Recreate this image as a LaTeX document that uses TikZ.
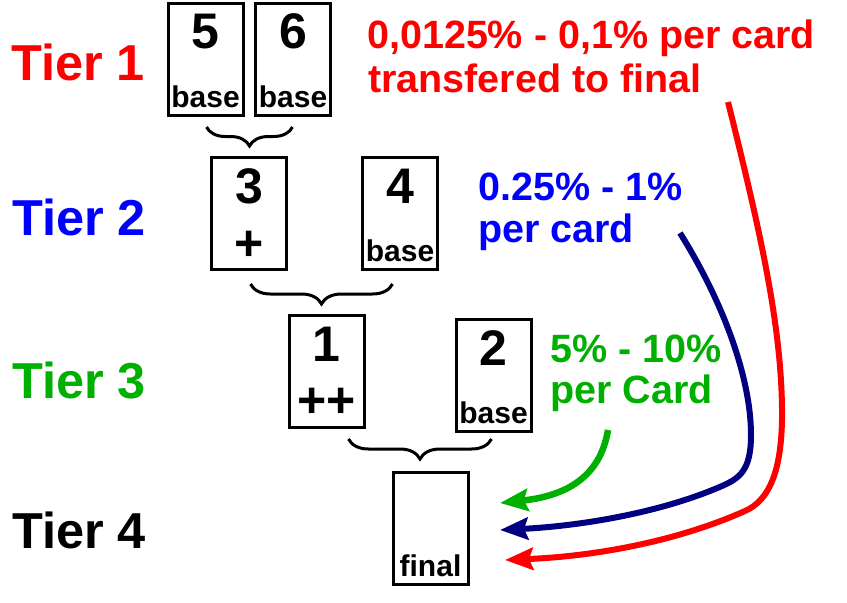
\documentclass[tikz,border=0pt]{standalone}
\usepackage{fontspec}
\setmainfont{Liberation Sans}
\usetikzlibrary{arrows.meta,decorations.pathreplacing,calc}
\definecolor{tred}{HTML}{FF0000}
\definecolor{tblue}{HTML}{0000FF}
\definecolor{tgreen}{HTML}{00B000}
\definecolor{tnavy}{HTML}{000080}
\tikzset{
  card/.style={draw, line width=3pt, minimum width=75pt, minimum height=112pt, inner sep=0pt, fill=white},
  num/.style={font=\fontsize{50}{50}\selectfont\bfseries, anchor=base, inner sep=0pt},
  lab/.style={font=\fontsize{30}{30}\selectfont\bfseries, anchor=base, inner sep=0pt},
  tier/.style={font=\fontsize{50.5}{50.5}\selectfont\bfseries, anchor=base west, inner sep=0pt},
  note/.style={font=\fontsize{39.5}{39.5}\selectfont\bfseries, anchor=base west, inner sep=0pt},
  cbrace/.style={decorate, decoration={brace, mirror, amplitude=19pt}, line width=3pt},
  flow/.style={line width=6pt, -{Stealth[length=28pt, width=22pt, inset=4pt]}},
}
\begin{document}
\begin{tikzpicture}[x=1pt, y=-1pt]
\useasboundingbox (0,0) rectangle (847,603);
% tier labels
\node[tier, text=tred]   (t1) at (11,80)  {Tier 1};
\node[tier, text=tblue]  (t2) at (12,235) {Tier 2};
\node[tier, text=tgreen] (t3) at (12,398) {Tier 3};
\node[tier, text=black]  (t4) at (12,548) {Tier 4};
% cards
\node[card] (c5) at (205.5,59.5) {};
\node[card] (c6) at (293,59.5) {};
\node[card] (c3) at (249,213.5) {};
\node[card] (c4) at (400,213.5) {};
\node[card] (c1) at (326.5,371) {};
\node[card] (c2) at (493.5,375) {};
\node[card] (cf) at (430.5,528) {};
% card numbers
\node[num] (n5) at ($(c5.center)+(0,-11)$) {5};
\node[num] (n6) at ($(c6.center)+(0,-11)$) {6};
\node[num] (n3) at ($(c3.center)+(0,-10)$) {3};
\node[num] (n4) at ($(c4.center)+(0,-10)$) {4};
\node[num] (n1) at ($(c1.center)+(0,-10)$) {1};
\node[num] (n2) at ($(c2.center)+(0,-10)$) {2};
% card bottom labels
\node[lab] (l5) at ($(c5.center)+(0,48)$) {base};
\node[lab] (l6) at ($(c6.center)+(0,48)$) {base};
\node[num] (l3) at ($(c3.center)+(0,47)$) {+};
\node[lab] (l4) at ($(c4.center)+(0,48)$) {base};
\node[num] (l1) at ($(c1.center)+(0,46)$) {++};
\node[lab] (l2) at ($(c2.center)+(0,48)$) {base};
\node[lab] (lf) at ($(cf.center)+(0,48)$) {final};
% braces
\coordinate (b1l) at (206.5,127);
\coordinate (b1r) at (292.5,127);
\coordinate (b2l) at (250.5,284);
\coordinate (b2r) at (392.5,284);
\coordinate (b3l) at (348.5,439);
\coordinate (b3r) at (491.5,439);
\draw[cbrace] (b1l) -- (b1r);
\draw[cbrace, decoration={amplitude=20pt}] (b2l) -- (b2r);
\draw[cbrace, decoration={amplitude=20pt}] (b3l) -- (b3r);
% notes
\node[note, text=tred] (r1) at (367,48) {0,0125\% - 0,1\% per card};
\node[note, text=tred] (r2) at (368,92) {transfered to final};
\node[note, text=tblue] (u1) at (478,200) {0.25\% - 1\%};
\node[note, text=tblue] (u2) at (478,242) {per card};
\node[note, text=tgreen] (g1) at (550,362) {5\% - 10\%};
\node[note, text=tgreen] (g2) at (550,403) {per Card};
% arrows
\coordinate (gs) at (608,430);
\coordinate (ge) at (500,503);
\coordinate (bs) at (680,233);
\coordinate (be) at (500,530);
\coordinate (rs) at (728,102);
\coordinate (re) at (505,560);
\draw[flow, draw=tgreen, line width=6.5pt] (gs) .. controls (600,478) and (565,496) .. (ge);
\draw[flow, draw=tnavy] (bs) .. controls (725,305) and (751,380) .. (751,435)
   .. controls (751,470) and (740,478) .. (722,486)
   .. controls (660,513) and (580,526) .. (be);
\draw[flow, draw=tred] (rs) .. controls (760,230) and (783,330) .. (782,420)
   .. controls (781,470) and (770,500) .. (745,511)
   .. controls (680,540) and (600,556) .. (re);
\end{tikzpicture}
\end{document}
